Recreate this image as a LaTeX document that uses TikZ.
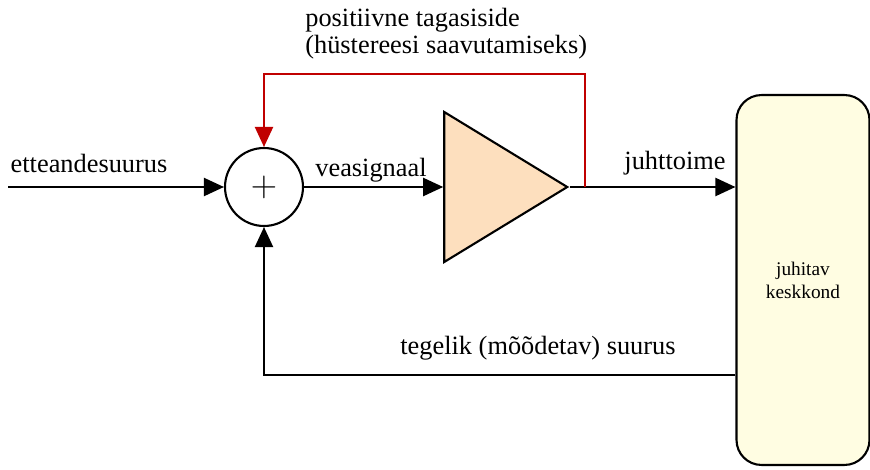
\documentclass[tikz,border=0pt]{standalone}
\usepackage{fontspec}
\setmainfont{Liberation Serif}
\usetikzlibrary{arrows.meta, shapes.geometric}

\begin{document}
\begin{tikzpicture}[x=0.02cm, y=-0.02cm, >={Triangle[length=4mm, width=3.6mm]}]
  % Page frame in pixel units of the original picture
  \useasboundingbox (0,0) rectangle (870,470);

  % ==========================================
  % 1. COLOURS & STYLES
  % ==========================================
  \definecolor{ampFill}{RGB}{253, 223, 190}  % amplifier body
  \definecolor{plantFill}{RGB}{255, 253, 226} % controlled environment
  \definecolor{fbRed}{RGB}{192, 0, 0}        % positive feedback

  \tikzset{
    wire/.style={line width=1.2pt, ->},
    lbl/.style={font=\fontsize{15}{15.5}\selectfont, inner sep=0pt},
    sumnode/.style={draw, circle, line width=1.2pt, minimum size=1.56cm, inner sep=0pt,
      font=\fontsize{20}{20}\selectfont},
    ampnode/.style={draw, isosceles triangle, isosceles triangle stretches=true,
      fill=ampFill, line width=1.2pt, minimum height=2.46cm, minimum width=3cm,
      inner sep=0pt},
    plantnode/.style={draw, rounded corners=0.5cm, fill=plantFill, line width=1.2pt,
      minimum width=2.66cm, minimum height=7.4cm, align=center,
      font=\fontsize{11}{13}\selectfont}
  }

  % ==========================================
  % 2. BLOCKS
  % ==========================================
  \node[sumnode] (sum) at (264,187) {$+$};
  \node[ampnode, anchor=apex] (amp) at (570,187) {};
  \node[plantnode] (plant) at (803,280) {juhitav\\keskkond};

  % helper points for the free ends and bends
  \coordinate (inStart) at (8,187);
  \coordinate (fbTap) at (585,187);
  \coordinate (fbTop) at (585,74);
  \coordinate (measOut) at (737,375);

  % ==========================================
  % 3. SIGNAL PATH
  % ==========================================
  \draw[wire] (inStart) -- (sum.west);
  \draw[wire] (sum.east) -- (amp.lower side);
  \draw[wire] (amp.apex) -- (plant.west |- amp.apex);

  % positive feedback loop (red)
  \draw[wire, fbRed] (fbTap) -- (fbTop) -| (sum.north);

  % measured value back to the summing point
  \draw[wire] (plant.west |- measOut) -| (sum.south);

  % ==========================================
  % 4. LABELS
  % ==========================================
  \node[lbl] (lblIn) at (89,163) {etteandesuurus};
  \node[lbl] (lblErr) at (371,170) {veasignaal};
  \node[lbl] (lblCtrl) at (675,163) {juhttoime};
  \node[lbl, anchor=west, align=left] (lblFb) at (305,34)
    {positiivne tagasiside\\(hüstereesi saavutamiseks)};
  \node[lbl] (lblMeas) at (538,348) {tegelik (mõõdetav) suurus};

\end{tikzpicture}
\end{document}
